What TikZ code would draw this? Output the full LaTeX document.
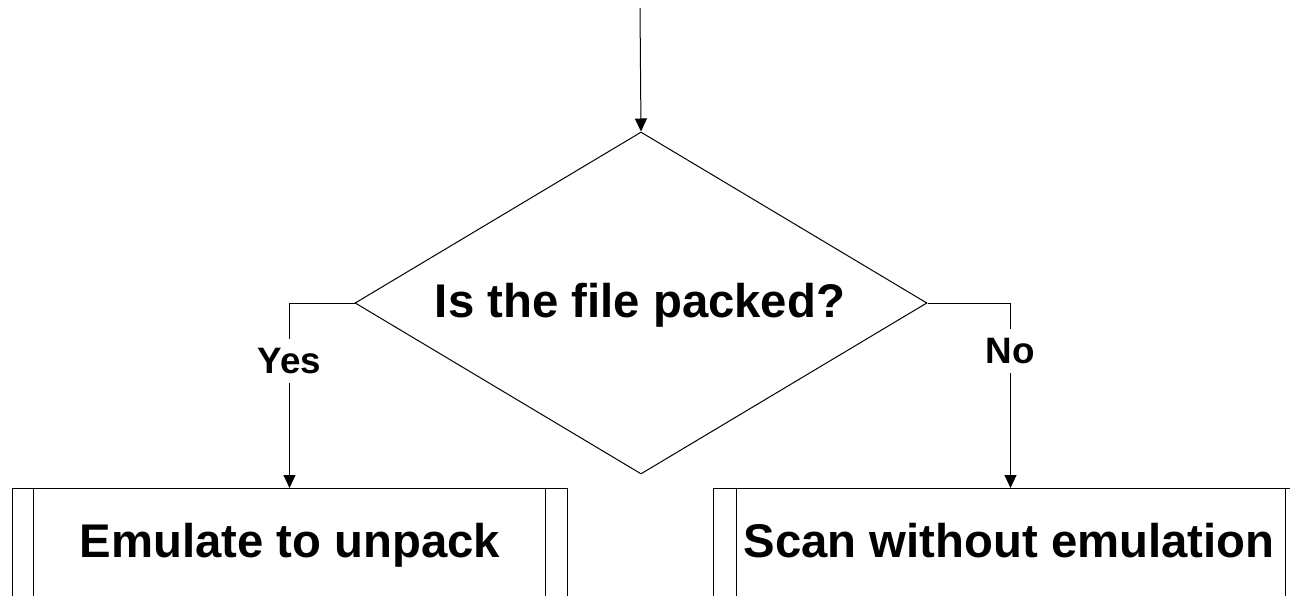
\documentclass[tikz,border=0pt]{standalone}
\usepackage{fontspec}
\setmainfont{Liberation Sans}
\usetikzlibrary{shapes.geometric,arrows.meta}
\begin{document}
\begin{tikzpicture}[x=1pt,y=-1pt,
  line width=1pt,
  bigtext/.style={font=\bfseries\fontsize{47.3}{54}\selectfont, inner sep=0pt},
  lbl/.style={font=\bfseries\fontsize{36.8}{42}\selectfont, fill=white, inner sep=0pt, minimum height=44pt, minimum width=50pt},
  decision/.style={diamond, draw, inner sep=0pt, aspect=1.67, minimum width=572pt, minimum height=342pt},
  procbox/.style={rectangle, draw, inner sep=0pt, minimum height=160pt, anchor=north},
  flow/.style={-{Triangle[width=12pt,length=13pt]}}
]
\useasboundingbox (0,0) rectangle (1290,596);
\clip (0,0) rectangle (1290,596);

\node[decision] (dia) at (641,303) {};
\node[bigtext, anchor=base] (q) at (640,317) {Is the file packed?};

\node[procbox, minimum width=555pt] (emu) at (289.5,488) {};
\node[procbox, minimum width=594pt] (scan) at (1010.5,488) {};
\draw ([xshift=22pt]emu.north west) -- ([xshift=22pt]emu.south west);
\draw ([xshift=-22pt]emu.north east) -- ([xshift=-22pt]emu.south east);
\draw ([xshift=23pt]scan.north west) -- ([xshift=23pt]scan.south west);
\draw ([xshift=-23pt]scan.north east) -- ([xshift=-23pt]scan.south east);
\node[bigtext, anchor=base] (emut) at (290,557) {Emulate to unpack};
\node[bigtext, anchor=base] (scant) at (1009,557) {Scan without emulation};

\coordinate (start) at (640,8);
\draw[flow] (start) -- (dia.north);
\draw[flow] (dia.west) -| node[lbl, pos=0.657] (yes) {Yes} (emu.north);
\draw[flow] (dia.east) -| node[lbl, pos=0.631] (no) {No} (scan.north);
\end{tikzpicture}
\end{document}
